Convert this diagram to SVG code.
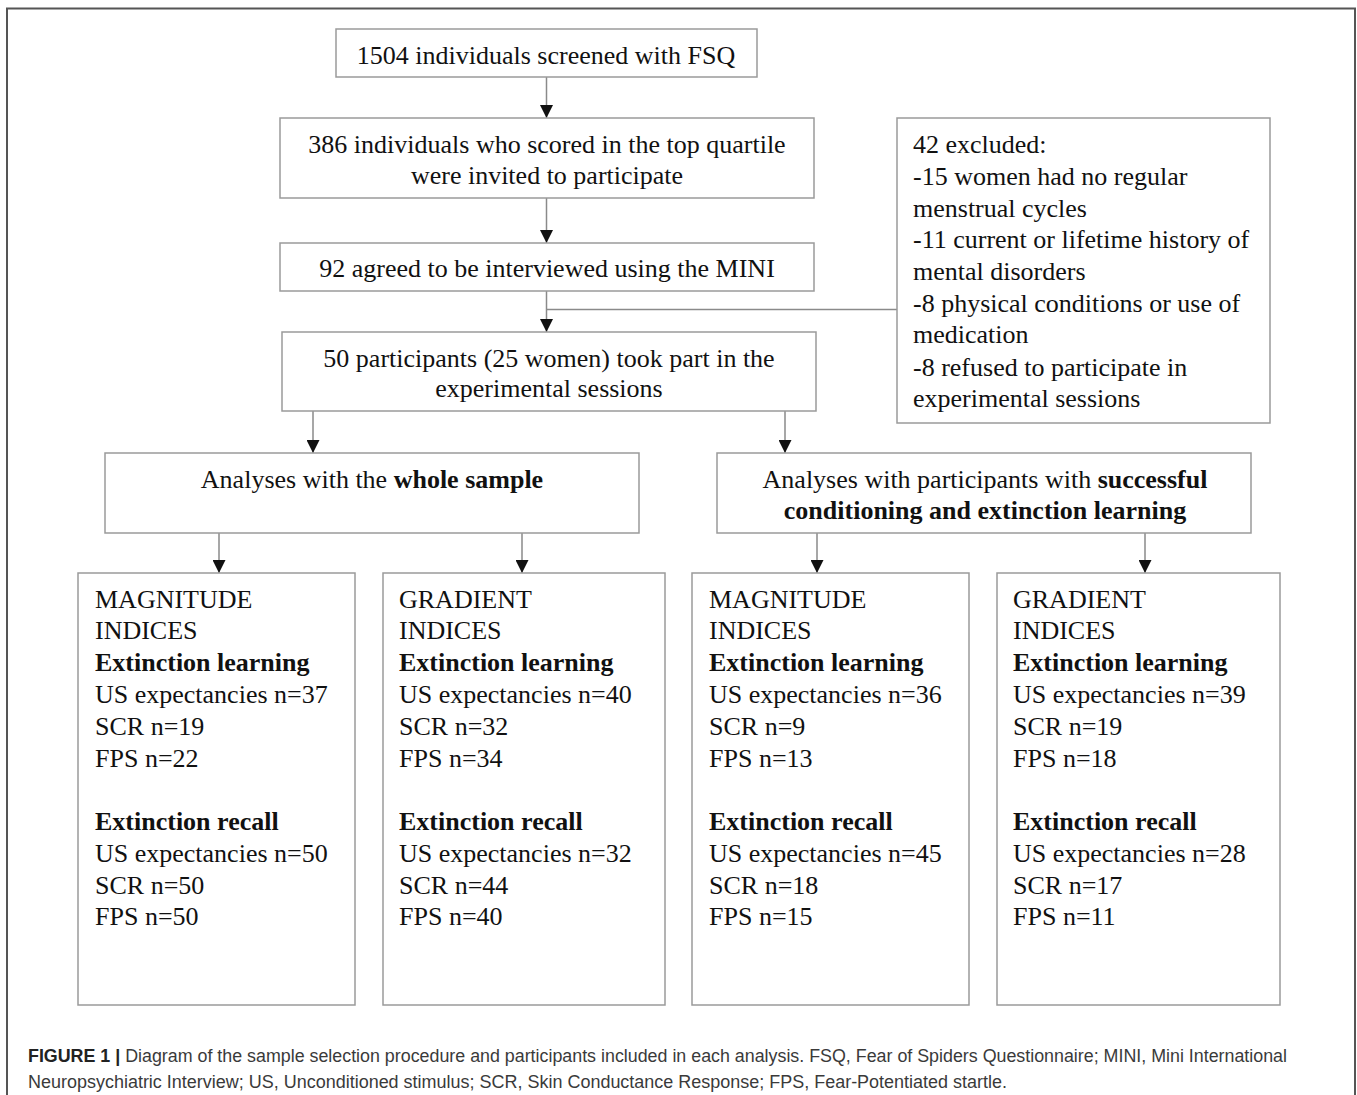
<svg xmlns="http://www.w3.org/2000/svg" width="1357" height="1095" viewBox="0 0 1357 1095">
<defs>
<style>
.box{fill:#fff;stroke:#9a9a9a;stroke-width:1.5}
.t{font-family:"Liberation Serif","Times New Roman",serif;font-size:26px;fill:#111}
.c{text-anchor:middle}
.b{font-weight:bold}
.ln{stroke:#8a8a8a;stroke-width:1.5;fill:none}
.cap{font-family:"Liberation Sans",Arial,sans-serif;font-size:17.5px;fill:#3a3a3a}
</style>
<marker id="ah" viewBox="0 0 13 13" refX="13" refY="6.5" markerWidth="13" markerHeight="13" markerUnits="userSpaceOnUse" orient="auto">
<path d="M0,0 L13,6.5 L0,13 z" fill="#111"/>
</marker>
</defs>
<rect x="0" y="0" width="1357" height="1095" fill="#fff"/>
<path d="M7,1095 V8.5 H1355 V1095" fill="none" stroke="#555" stroke-width="2"/>

<g id="connectors">
<line class="ln" x1="546.5" y1="77" x2="546.5" y2="118" marker-end="url(#ah)"/>
<line class="ln" x1="546.5" y1="198" x2="546.5" y2="243" marker-end="url(#ah)"/>
<line class="ln" x1="546.5" y1="291" x2="546.5" y2="332" marker-end="url(#ah)"/>
<line class="ln" x1="546.5" y1="309.5" x2="897" y2="309.5"/>
<line class="ln" x1="313" y1="411" x2="313" y2="453" marker-end="url(#ah)"/>
<line class="ln" x1="785" y1="411" x2="785" y2="453" marker-end="url(#ah)"/>
<line class="ln" x1="219" y1="533" x2="219" y2="573" marker-end="url(#ah)"/>
<line class="ln" x1="522" y1="533" x2="522" y2="573" marker-end="url(#ah)"/>
<line class="ln" x1="817" y1="533" x2="817" y2="573" marker-end="url(#ah)"/>
<line class="ln" x1="1145" y1="533" x2="1145" y2="573" marker-end="url(#ah)"/>
</g>

<g id="screened">
<rect class="box" x="336" y="29" width="421" height="48"/>
<text class="t c" x="546" y="64">1504 individuals screened with FSQ</text>
</g>

<g id="invited">
<rect class="box" x="280" y="118" width="534" height="80"/>
<text class="t c" x="547" y="153">386 individuals who scored in the top quartile</text>
<text class="t c" x="547" y="184">were invited to participate</text>
</g>

<g id="interviewed">
<rect class="box" x="280" y="243" width="534" height="48"/>
<text class="t c" x="547" y="277">92 agreed to be interviewed using the MINI</text>
</g>

<g id="excluded">
<rect class="box" x="897" y="118" width="373" height="305"/>
<text class="t" x="913" y="153">42 excluded:</text>
<text class="t" x="913" y="185">-15 women had no regular</text>
<text class="t" x="913" y="217">menstrual cycles</text>
<text class="t" x="913" y="248">-11 current or lifetime history of</text>
<text class="t" x="913" y="280">mental disorders</text>
<text class="t" x="913" y="312">-8 physical conditions or use of</text>
<text class="t" x="913" y="343">medication</text>
<text class="t" x="913" y="376">-8 refused to participate in</text>
<text class="t" x="913" y="407">experimental sessions</text>
</g>

<g id="participants">
<rect class="box" x="282" y="332" width="534" height="79"/>
<text class="t c" x="549" y="367">50 participants (25 women) took part in the</text>
<text class="t c" x="549" y="397">experimental sessions</text>
</g>

<g id="whole">
<rect class="box" x="105" y="453" width="534" height="80"/>
<text class="t c" x="372" y="488">Analyses with the <tspan class="b">whole sample</tspan></text>
</g>

<g id="successful">
<rect class="box" x="717" y="453" width="534" height="80"/>
<text class="t c" x="985" y="488">Analyses with participants with <tspan class="b">successful</tspan></text>
<text class="t c b" x="985" y="519">conditioning and extinction learning</text>
</g>

<g id="whole-magnitude">
<rect class="box" x="78" y="573" width="277" height="432"/>
<text class="t" x="95" y="608">MAGNITUDE</text>
<text class="t" x="95" y="639">INDICES</text>
<text class="t b" x="95" y="671">Extinction learning</text>
<text class="t" x="95" y="703">US expectancies n=37</text>
<text class="t" x="95" y="735">SCR n=19</text>
<text class="t" x="95" y="767">FPS n=22</text>
<text class="t b" x="95" y="830">Extinction recall</text>
<text class="t" x="95" y="862">US expectancies n=50</text>
<text class="t" x="95" y="894">SCR n=50</text>
<text class="t" x="95" y="925">FPS n=50</text>
</g>

<g id="whole-gradient">
<rect class="box" x="383" y="573" width="282" height="432"/>
<text class="t" x="399" y="608">GRADIENT</text>
<text class="t" x="399" y="639">INDICES</text>
<text class="t b" x="399" y="671">Extinction learning</text>
<text class="t" x="399" y="703">US expectancies n=40</text>
<text class="t" x="399" y="735">SCR n=32</text>
<text class="t" x="399" y="767">FPS n=34</text>
<text class="t b" x="399" y="830">Extinction recall</text>
<text class="t" x="399" y="862">US expectancies n=32</text>
<text class="t" x="399" y="894">SCR n=44</text>
<text class="t" x="399" y="925">FPS n=40</text>
</g>

<g id="successful-magnitude">
<rect class="box" x="692" y="573" width="277" height="432"/>
<text class="t" x="709" y="608">MAGNITUDE</text>
<text class="t" x="709" y="639">INDICES</text>
<text class="t b" x="709" y="671">Extinction learning</text>
<text class="t" x="709" y="703">US expectancies n=36</text>
<text class="t" x="709" y="735">SCR n=9</text>
<text class="t" x="709" y="767">FPS n=13</text>
<text class="t b" x="709" y="830">Extinction recall</text>
<text class="t" x="709" y="862">US expectancies n=45</text>
<text class="t" x="709" y="894">SCR n=18</text>
<text class="t" x="709" y="925">FPS n=15</text>
</g>

<g id="successful-gradient">
<rect class="box" x="997" y="573" width="283" height="432"/>
<text class="t" x="1013" y="608">GRADIENT</text>
<text class="t" x="1013" y="639">INDICES</text>
<text class="t b" x="1013" y="671">Extinction learning</text>
<text class="t" x="1013" y="703">US expectancies n=39</text>
<text class="t" x="1013" y="735">SCR n=19</text>
<text class="t" x="1013" y="767">FPS n=18</text>
<text class="t b" x="1013" y="830">Extinction recall</text>
<text class="t" x="1013" y="862">US expectancies n=28</text>
<text class="t" x="1013" y="894">SCR n=17</text>
<text class="t" x="1013" y="925">FPS n=11</text>
</g>

<g id="caption">
<text class="cap" x="28" y="1062" textLength="1259" lengthAdjust="spacingAndGlyphs"><tspan font-weight="bold" fill="#222">FIGURE 1 | </tspan>Diagram of the sample selection procedure and participants included in each analysis. FSQ, Fear of Spiders Questionnaire; MINI, Mini International</text>
<text class="cap" x="28" y="1088" textLength="979" lengthAdjust="spacingAndGlyphs">Neuropsychiatric Interview; US, Unconditioned stimulus; SCR, Skin Conductance Response; FPS, Fear-Potentiated startle.</text>
</g>
</svg>
